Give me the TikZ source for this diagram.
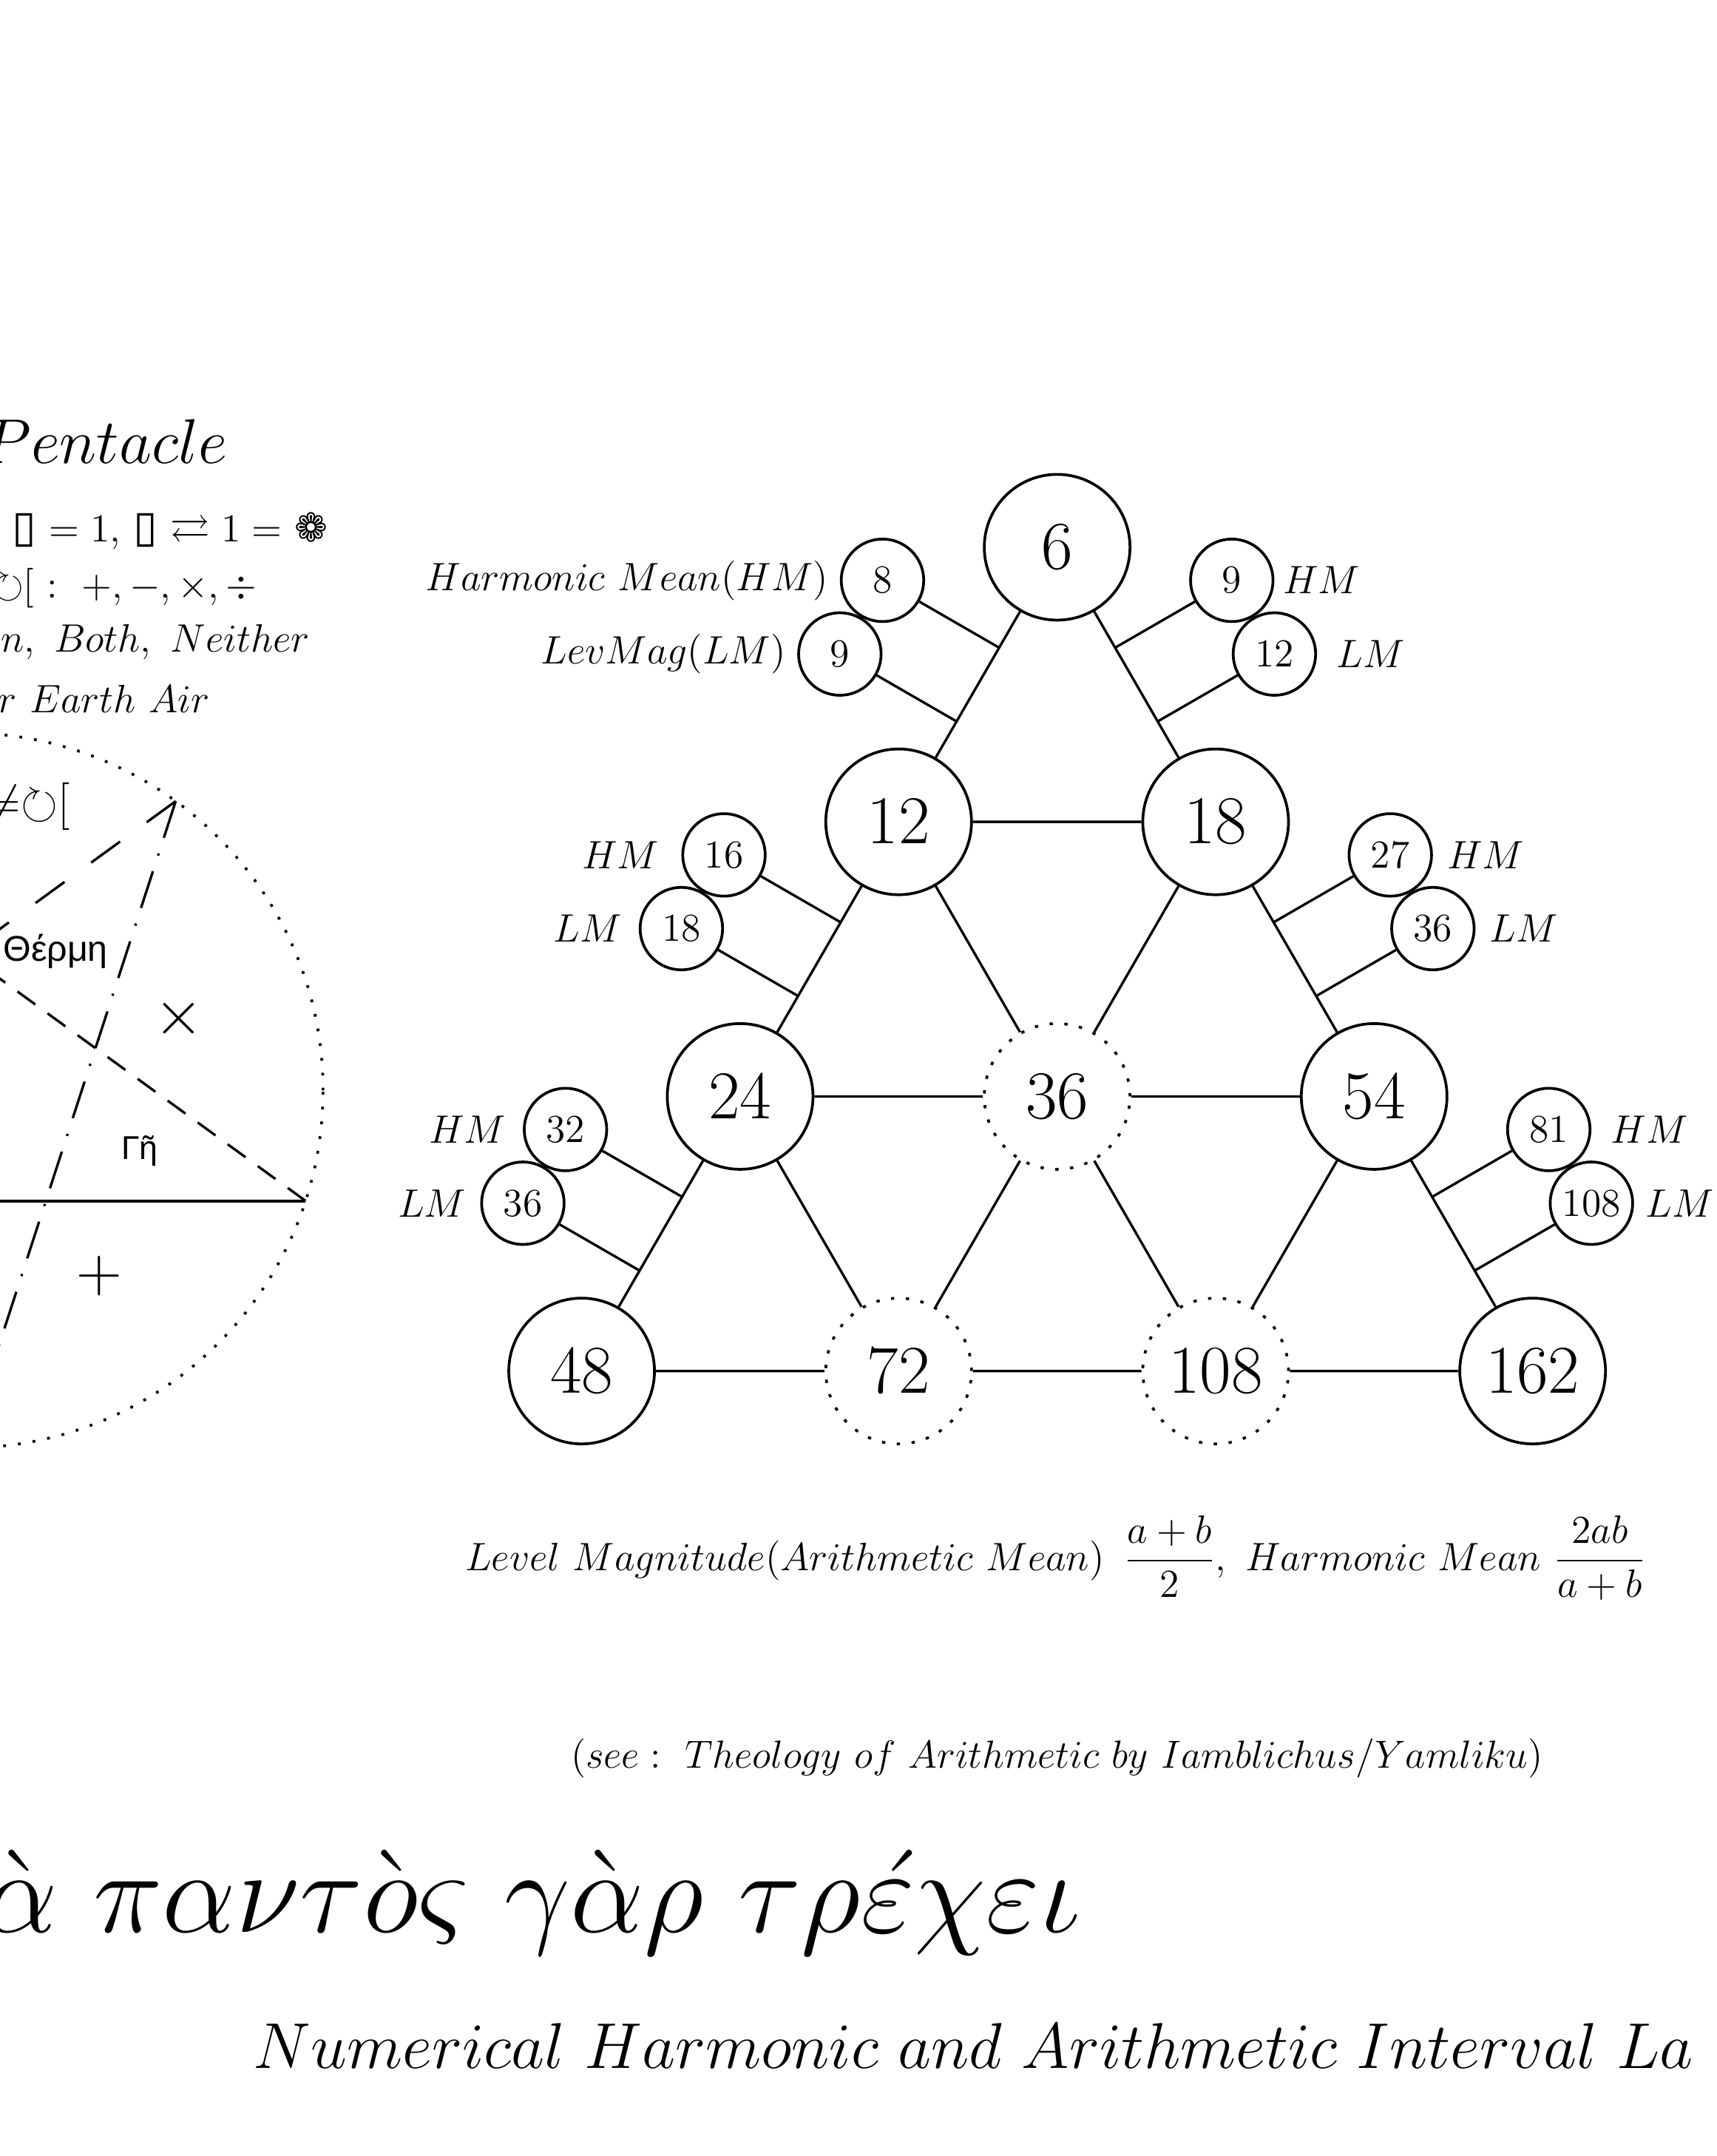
\documentclass[tikz,border=0pt]{standalone}
\usepackage{amsmath,amssymb}
\usepackage{fontspec}
\newfontfamily\dvsfont{DejaVu Sans}
\newfontfamily\grkfont{Liberation Sans}
\usetikzlibrary{positioning,calc}
\tikzset{
  big/.style={circle,draw,line width=1pt,minimum size=53pt,inner sep=1pt,font=\fontsize{24.88}{30}\selectfont},
  bigdot/.style={big,dash pattern=on 1.2pt off 4.2pt},
  small/.style={circle,draw,line width=1pt,minimum size=30pt,inner sep=1pt,font=\fontsize{14.4}{17}\selectfont},
  lab/.style={inner sep=0pt,font=\fontsize{14.4}{17}\selectfont},
  head/.style={inner sep=0pt,font=\fontsize{20.74}{25}\selectfont,scale=1.11,transform shape},
  link/.style={line width=0.9pt},
  ring/.style={line width=1pt,dash pattern=on 1pt off 4.4pt},
}
\begin{document}
\begin{tikzpicture}[x=0.5pt,y=-0.5pt]
\useasboundingbox (0,0) rectangle (1249,1568);
\clip (0,0) rectangle (1249,1568);

% pentacle
\node[head,anchor=base west] (title) at (-13,337) {$Pentacle$};
\node[lab,anchor=base east] (rule1) at (239,394) {$\neq$ {\dvsfont\fontsize{16}{18}\selectfont ▯} $=1,$ {\dvsfont\fontsize{16}{18}\selectfont ▯} $\rightleftarrows 1=$ {\dvsfont ❁}};
\node[lab,anchor=base east] (rule2) at (187,435) {$\mathord{\circlearrowright}[\ :\ +,-,\times,\div$};
\node[lab,anchor=base east] (rule3) at (226,474) {$on,\ Both,\ Neither$};
\node[lab,anchor=base east] (rule4) at (153,518) {$r\ Earth\ Air$};

\coordinate (pc) at (-25,793);
\draw[ring] (pc) circle[radius=130pt];
\foreach \i/\a in {1/18,2/-54,3/-126,4/162,5/90}
  \coordinate (v\i) at ($(pc)+(\a:260)$);
\draw[line width=1.1pt] (v1) -- (v4);
\draw[line width=0.9pt,dash pattern=on 13pt off 12pt] (v2) -- (v4);
\draw[line width=0.9pt,dash pattern=on 8pt off 5.5pt] (v1) -- (v3);
\draw[line width=0.9pt,dash pattern=on 14pt off 6pt on 0.8pt off 6pt] (v2) -- (v5);
\node[anchor=base east,inner sep=0pt,font=\fontsize{17.28}{20}\selectfont] (top) at (51,595) {$\mathord{\neq}\mathord{\circlearrowright}[$};
\node[anchor=base west,inner sep=0pt,font=\grkfont\fontsize{13}{15}\selectfont] (hot) at (2,699) {Θέρμη};
\node[anchor=base west,inner sep=0pt,font=\grkfont\fontsize{12}{14}\selectfont] (earth) at (88,843) {Γῆ};
\node[head] (mul) at (130,741) {$\times$};
\node[head] (add) at (72,928) {$+$};

% lattice
\node[big] (n6) at (769,398) {$6$};
\node[big] (n12) at (653.7,597.7) {$12$};
\node[big] (n18) at (884.3,597.7) {$18$};
\node[big] (n24) at (538.4,797.4) {$24$};
\node[bigdot] (n36) at (769,797.4) {$36$};
\node[big] (n54) at (999.6,797.4) {$54$};
\node[big] (n48) at (423.1,997.1) {$48$};
\node[bigdot] (n72) at (653.7,997.1) {$72$};
\node[bigdot] (n108) at (884.3,997.1) {$108$};
\node[big] (n162) at (1114.9,997.1) {$162$};
\draw[link] (n6) -- (n12) -- (n24) -- (n48) -- (n72) -- (n108) -- (n162) -- (n54) -- (n18) -- (n6)
  (n12) -- (n18) (n24) -- (n36) -- (n54) (n12) -- (n36) -- (n18)
  (n24) -- (n72) -- (n36) -- (n108) -- (n54);

\node[small] (h1) at ($(n6)!.5!(n12)+(-69.4,-75.8)$) {$8$};
\node[small] (l1) at ($(n6)!.5!(n12)+(-100.4,-22.2)$) {$9$};
\node[small] (h2) at ($(n6)!.5!(n18)+(69.4,-75.8)$) {$9$};
\node[small] (l2) at ($(n6)!.5!(n18)+(100.4,-22.2)$) {$12$};
\node[small] (h3) at ($(n12)!.5!(n24)+(-69.4,-75.8)$) {$16$};
\node[small] (l3) at ($(n12)!.5!(n24)+(-100.4,-22.2)$) {$18$};
\node[small] (h4) at ($(n18)!.5!(n54)+(69.4,-75.8)$) {$27$};
\node[small] (l4) at ($(n18)!.5!(n54)+(100.4,-22.2)$) {$36$};
\node[small] (h5) at ($(n24)!.5!(n48)+(-69.4,-75.8)$) {$32$};
\node[small] (l5) at ($(n24)!.5!(n48)+(-100.4,-22.2)$) {$36$};
\node[small] (h6) at ($(n54)!.5!(n162)+(69.4,-75.8)$) {$81$};
\node[small] (l6) at ($(n54)!.5!(n162)+(100.4,-22.2)$) {$108$};
\foreach \i/\a/\b in {1/n6/n12,2/n6/n18,3/n12/n24,4/n18/n54,5/n24/n48,6/n54/n162}{
  \coordinate (fh\i) at ($(\a)!(h\i)!(\b)$);
  \coordinate (fl\i) at ($(\a)!(l\i)!(\b)$);
  \draw[link] (h\i) -- (fh\i) (l\i) -- (fl\i);
}

\node[lab,left=4pt of h1] (th1) {$Harmonic\ Mean(HM)$};
\node[lab,left=4pt of l1] (tl1) {$LevMag(LM)$};
\node[lab,right=3pt of h2] (th2) {$HM$};
\node[lab,right=7pt of l2] (tl2) {$LM$};
\node[lab,left=8pt of h3] (th3) {$HM$};
\node[lab,left=6pt of l3] (tl3) {$LM$};
\node[lab,right=5pt of h4] (th4) {$HM$};
\node[lab,right=5pt of l4] (tl4) {$LM$};
\node[lab,left=6pt of h5] (th5) {$HM$};
\node[lab,left=5pt of l5] (tl5) {$LM$};
\node[lab,right=7pt of h6] (th6) {$HM$};
\node[lab,right=4pt of l6] (tl6) {$LM$};

% texts
\node[lab,anchor=base west] (means) at (338,1142) {$Level\ Magnitude(Arithmetic\ Mean)\ \,\dfrac{a+b}{2},\ Harmonic\ Mean\ \dfrac{2ab}{a+b}$};
\node[lab,anchor=base west,scale=0.99,transform shape] (see) at (415,1286) {$(see:\ Theology\ of\ Arithmetic\ by\ Iamblichus/Yamliku)$};
\node[anchor=base west,inner sep=0pt,font=\fontsize{24.88}{30}\selectfont,scale=1.712,transform shape] (motto) at (-12,1405) {$\grave\alpha\ \pi\alpha\nu\tau\grave{o}\varsigma\ \gamma\grave\alpha\rho\ \tau\rho\acute\varepsilon\chi\varepsilon\iota$};
\node[head,anchor=base west,scale=1.024] (subtitle) at (184,1504) {$Numerical\ Harmonic\ and\ Arithmetic\ Interval\ La$};
\end{tikzpicture}
\end{document}
